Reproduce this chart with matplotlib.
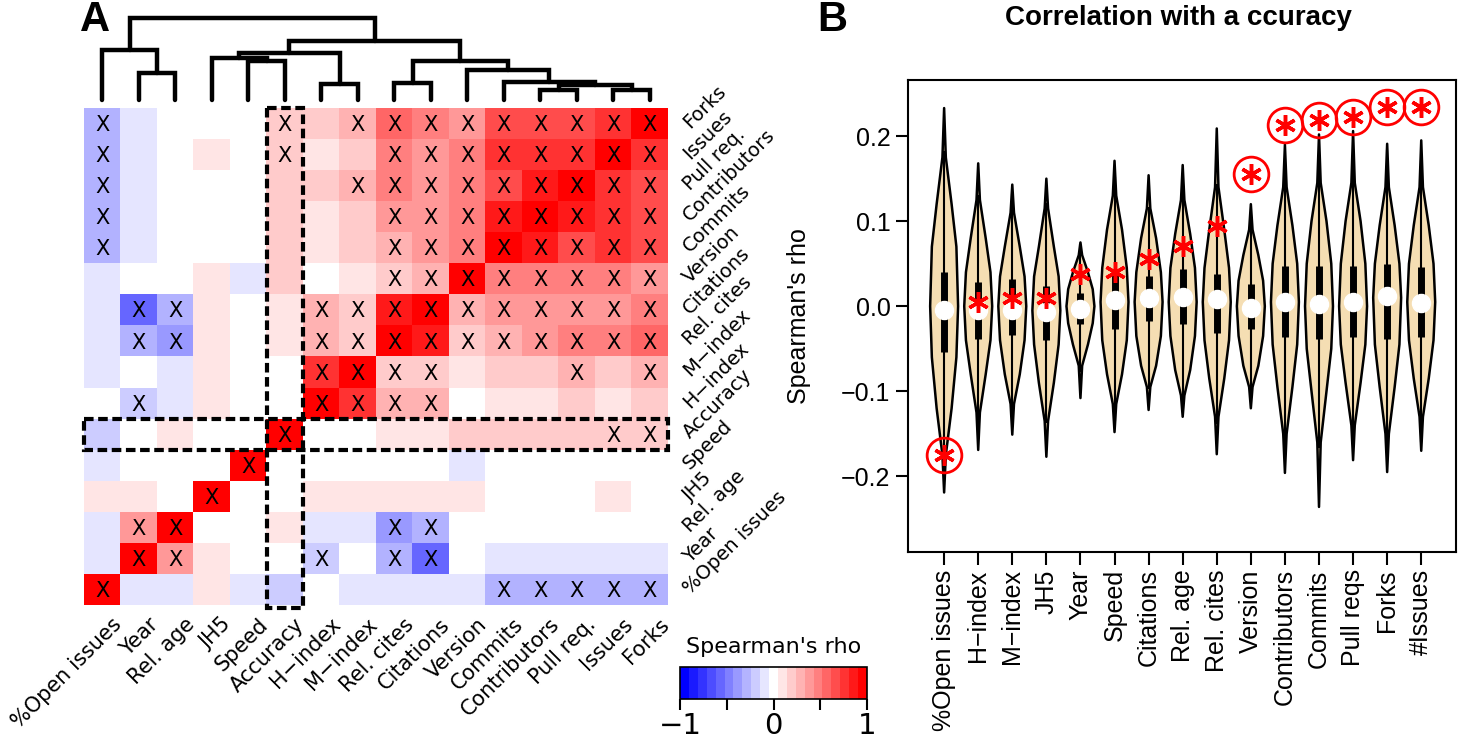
import numpy as np
import matplotlib
matplotlib.use("Agg")
import matplotlib.pyplot as plt
from matplotlib.colors import LinearSegmentedColormap
from matplotlib.patches import Rectangle

# ---- panel A data: leaf order of the dendrogram (left -> right, bottom -> top)
LEAVES = ["%Open issues", "Year", "Rel. age", "JH5", "Speed", "Accuracy",
          "H\u2212index", "M\u2212index", "Rel. cites", "Citations", "Version",
          "Commits", "Contributors", "Pull req.", "Issues", "Forks"]

# Spearman's rho between metrics, rows/cols in leaf order
RHO = [
    [1, -0.05, -0.08, 0.06, -0.05, -0.175, 0.0, -0.05, -0.12, -0.08, -0.13, -0.27, -0.28, -0.27, -0.3, -0.26],
    [-0.05, 1, 0.35, 0.07, 0.0, 0.038, -0.2, 0.04, -0.28, -0.55, 0.0, -0.1, -0.1, -0.05, -0.05, -0.05],
    [-0.08, 0.35, 1, 0.0, 0.03, 0.07, -0.08, -0.05, -0.38, -0.3, 0.04, 0.0, 0.0, 0.04, 0.04, 0.0],
    [0.06, 0.07, 0.0, 1, 0.0, 0.01, 0.05, 0.05, 0.05, 0.05, 0.05, 0.0, 0.0, 0.0, 0.05, 0.0],
    [-0.05, 0.0, 0.03, 0.0, 1, 0.04, 0.0, 0.0, 0.0, 0.0, -0.05, 0.0, 0.0, 0.04, 0.04, 0.04],
    [-0.175, 0.038, 0.07, 0.01, 0.04, 1, 0.005, 0.01, 0.095, 0.055, 0.155, 0.215, 0.21, 0.22, 0.235, 0.232],
    [0.0, -0.2, -0.08, 0.05, 0.0, 0.005, 1, 0.75, 0.27, 0.3, 0.0, 0.1, 0.13, 0.2, 0.1, 0.22],
    [-0.05, 0.04, -0.05, 0.05, 0.0, 0.01, 0.75, 1, 0.22, 0.22, 0.05, 0.15, 0.15, 0.25, 0.2, 0.28],
    [-0.12, -0.28, -0.38, 0.05, 0.0, 0.095, 0.27, 0.22, 1, 0.85, 0.15, 0.32, 0.4, 0.47, 0.45, 0.55],
    [-0.08, -0.55, -0.3, 0.05, 0.0, 0.055, 0.3, 0.22, 0.85, 1, 0.25, 0.35, 0.4, 0.37, 0.42, 0.5],
    [-0.13, 0.0, 0.04, 0.05, -0.05, 0.155, 0.0, 0.05, 0.15, 0.25, 1, 0.5, 0.45, 0.45, 0.45, 0.42],
    [-0.27, -0.1, 0.0, 0.0, 0.0, 0.215, 0.1, 0.15, 0.32, 0.35, 0.5, 1, 0.85, 0.7, 0.72, 0.65],
    [-0.28, -0.1, 0.0, 0.0, 0.0, 0.21, 0.13, 0.15, 0.4, 0.4, 0.45, 0.85, 1, 0.85, 0.72, 0.67],
    [-0.27, -0.05, 0.04, 0.0, 0.04, 0.22, 0.2, 0.25, 0.47, 0.37, 0.45, 0.7, 0.85, 1, 0.72, 0.68],
    [-0.3, -0.05, 0.04, 0.05, 0.04, 0.235, 0.1, 0.2, 0.45, 0.42, 0.45, 0.72, 0.72, 0.72, 1, 0.8],
    [-0.26, -0.05, 0.0, 0.0, 0.04, 0.232, 0.22, 0.28, 0.55, 0.5, 0.42, 0.65, 0.67, 0.68, 0.8, 1],
]

# significant pairs, heatmap rows from top (Forks) to bottom (%Open issues)
SIG = [
    "X....X.XXXXXXXXX",
    "X....X..XXXXXXXX",
    "X......XXXXXXXXX",
    "X.......XXXXXXXX",
    "X.......XXXXXXXX",
    "........XXXXXXXX",
    ".XX...XXXXXXXXXX",
    ".XX...XXXXXXXXXX",
    "......XXXX...X.X",
    ".X....XXXX......",
    ".....X........XX",
    "....X...........",
    "...X............",
    ".XX.....XX......",
    ".XX...X.XX......",
    "X..........XXXXX",
]

# dendrogram merges: (child a, child b, height); ids >= 16 are earlier merges
MERGES = [
    (1, 2, 27), (0, 16, 50), (4, 5, 39), (3, 18, 42), (6, 7, 16),
    (19, 20, 47), (8, 9, 17), (12, 13, 10), (14, 15, 10), (23, 24, 15),
    (11, 25, 18), (10, 26, 30), (22, 27, 39), (21, 28, 59), (17, 29, 82),
]

# ---- panel B data
VIOLIN_LABELS = ["%Open issues", "H\u2212index", "M\u2212index", "JH5", "Year",
                 "Speed", "Citations", "Rel. age", "Rel. cites", "Version",
                 "Contributors", "Commits", "Pull reqs", "Forks", "#Issues"]
# outline levels of each violin, top tip -> bottom tip
VIOLIN_Y = [
    [0.233, 0.175, 0.12, 0.07, 0.0, -0.06, -0.12, -0.175, -0.219],
    [0.168, 0.125, 0.08, 0.04, 0.0, -0.04, -0.08, -0.125, -0.169],
    [0.143, 0.11, 0.07, 0.035, 0.0, -0.04, -0.08, -0.115, -0.151],
    [0.150, 0.115, 0.07, 0.035, -0.005, -0.045, -0.09, -0.135, -0.177],
    [0.075, 0.06, 0.04, 0.02, 0.0, -0.02, -0.045, -0.07, -0.108],
    [0.171, 0.13, 0.09, 0.045, 0.005, -0.04, -0.08, -0.115, -0.148],
    [0.154, 0.115, 0.08, 0.04, 0.005, -0.035, -0.07, -0.095, -0.122],
    [0.166, 0.125, 0.085, 0.045, 0.005, -0.035, -0.075, -0.105, -0.130],
    [0.209, 0.14, 0.09, 0.045, 0.005, -0.04, -0.085, -0.13, -0.174],
    [0.120, 0.09, 0.06, 0.03, 0.0, -0.035, -0.07, -0.095, -0.120],
    [0.190, 0.14, 0.095, 0.05, 0.005, -0.045, -0.095, -0.15, -0.196],
    [0.202, 0.145, 0.10, 0.05, 0.0, -0.05, -0.10, -0.16, -0.236],
    [0.206, 0.145, 0.10, 0.05, 0.0, -0.045, -0.09, -0.14, -0.181],
    [0.191, 0.14, 0.095, 0.05, 0.01, -0.045, -0.095, -0.15, -0.195],
    [0.195, 0.14, 0.095, 0.05, 0.005, -0.04, -0.085, -0.13, -0.170],
]
VIOLIN_HW = [0, 0.05, 0.22, 0.36, 0.41, 0.36, 0.22, 0.05, 0]
Q3 = [0.040, 0.029, 0.032, 0.024, 0.016, 0.044, 0.036, 0.044, 0.038, 0.026, 0.047, 0.047, 0.047, 0.050, 0.046]
Q1 = [-0.054, -0.038, -0.034, -0.040, -0.021, -0.027, -0.017, -0.021, -0.032, -0.027, -0.036, -0.038, -0.036, -0.038, -0.036]
MEDIAN = [-0.004, -0.004, -0.005, -0.007, -0.003, 0.007, 0.010, 0.011, 0.008, -0.002, 0.005, 0.003, 0.005, 0.012, 0.004]
OBSERVED = [-0.175, 0.005, 0.01, 0.01, 0.038, 0.04, 0.055, 0.071, 0.094, 0.155, 0.213, 0.219, 0.222, 0.234, 0.234]
SIGNIF = [1, 0, 0, 0, 0, 0, 0, 0, 0, 1, 1, 1, 1, 1, 1]

W, H = 1460, 742
fig = plt.figure(figsize=(W / 100, H / 100), dpi=100)


def box(x0, y0, x1, y1):
    # pixel box (top-left origin) -> figure fraction rect
    return [x0 / W, 1 - y1 / H, (x1 - x0) / W, (y1 - y0) / H]


# ---------------- panel A: heatmap
n = len(LEAVES)
mat = np.array(RHO)[::-1]
row_labels = LEAVES[::-1]
cmap = LinearSegmentedColormap.from_list("rho", ["#0000FF", "#FFFFFF", "#FF0000"], N=21)

ax_hm = fig.add_axes(box(84, 108, 668, 605))
im = ax_hm.imshow(mat, cmap=cmap, vmin=-1, vmax=1, aspect="auto", interpolation="nearest")
ax_hm.set_xlim(-0.5, n - 0.5)
ax_hm.set_ylim(n - 0.5, -0.5)
ax_hm.axis("off")

for i, row in enumerate(SIG):
    for j, c in enumerate(row):
        if c == "X":
            ax_hm.text(j, i + 0.05, "X", ha="center", va="center", fontsize=15,
                       family="DejaVu Sans")

for j, lab in enumerate(LEAVES):
    ax_hm.text(j + 0.25, n - 0.5 + 0.3, lab, rotation=45, ha="right", va="top",
               rotation_mode="anchor", fontsize=15, family="DejaVu Sans")
for i, lab in enumerate(row_labels):
    ax_hm.text(n - 0.5 + 0.5, i + 0.05, lab, rotation=45, ha="left", va="center",
               rotation_mode="anchor", fontsize=14, family="DejaVu Sans")

dash = (0, (2.3, 1.1))
ax_hm.add_patch(Rectangle((4.5, -0.5), 1, n + 0.1, fill=False, lw=3, ls=dash,
                          ec="black", clip_on=False, zorder=5))
ax_hm.add_patch(Rectangle((-0.5, 9.5), n, 1, fill=False, lw=3, ls=dash,
                          ec="black", clip_on=False, zorder=5))

# ---------------- dendrogram
ax_dn = fig.add_axes(box(84, 14, 668, 100))
ax_dn.set_xlim(-0.5, n - 0.5)
ax_dn.set_ylim(0, 86)
ax_dn.axis("off")
xpos = {k: float(k) for k in range(n)}
hgt = {k: 0.0 for k in range(n)}
for m, (a, b, h) in enumerate(MERGES):
    ax_dn.plot([xpos[a], xpos[a], xpos[b], xpos[b]], [hgt[a], h, h, hgt[b]],
               color="black", lw=3.2, solid_capstyle="round", solid_joinstyle="miter",
               clip_on=False)
    xpos[n + m] = (xpos[a] + xpos[b]) / 2
    hgt[n + m] = h

# ---------------- colour key
ax_cb = fig.add_axes(box(680, 667, 867, 699))
cb = fig.colorbar(im, cax=ax_cb, orientation="horizontal")
cb.set_ticks([-1, -0.5, 0, 0.5, 1])
cb.set_ticklabels(["\u22121", "", "0", "", "1"])
cb.outline.set_linewidth(1.2)
ax_cb.tick_params(length=8, width=1.5, labelsize=21, pad=1)
ax_cb.set_title("Spearman's rho", fontsize=16, pad=10, family="DejaVu Sans")

fig.text(95 / W, 1 - 20 / H, "A", fontsize=30, fontweight="bold",
         family="Liberation Sans", ha="center", va="center")

# ---------------- panel B: violins
sans = ["Liberation Sans", "DejaVu Sans"]
ax_v = fig.add_axes(box(908, 80, 1456, 552))
pos = np.arange(1, len(VIOLIN_LABELS) + 1)
hw = np.array(VIOLIN_HW)
for k, p in enumerate(pos):
    ys = np.array(VIOLIN_Y[k])
    xs = np.concatenate([p + hw, (p - hw)[::-1]])
    yy = np.concatenate([ys, ys[::-1]])
    ax_v.fill(xs, yy, fc="#F5DEB3", ec="black", lw=1.8, joinstyle="round", zorder=2)
    iqr = Q3[k] - Q1[k]
    lo = max(Q1[k] - 1.5 * iqr, ys[-1])
    hi = min(Q3[k] + 1.5 * iqr, ys[0])
    ax_v.plot([p, p], [lo, hi], color="black", lw=1.5, zorder=3)
    ax_v.plot([p, p], [Q1[k], Q3[k]], color="black", lw=5, solid_capstyle="butt", zorder=3)
    ax_v.plot(p, MEDIAN[k], "o", color="white", mec="white", ms=13, zorder=4)
    ax_v.plot(p, OBSERVED[k], marker=(6, 2, 0), color="red", mec="red", ms=15, mew=2.5,
              ls="none", zorder=5)
    if SIGNIF[k]:
        ax_v.plot(p, OBSERVED[k], "o", mfc="none", mec="red", ms=25, mew=2, zorder=5)

ax_v.set_xlim(-0.06, 16.02)
ax_v.set_ylim(-0.289, 0.266)
ax_v.set_yticks([-0.2, -0.1, 0.0, 0.1, 0.2])
ax_v.set_yticklabels(["\u22120.2", "\u22120.1", "0.0", "0.1", "0.2"], family=sans)
ax_v.set_xticks(pos)
ax_v.set_xticklabels(VIOLIN_LABELS, rotation=90, family=sans)
ax_v.tick_params(length=9, width=1.5, labelsize=18)
for s in ax_v.spines.values():
    s.set_linewidth(1.5)
ax_v.set_ylabel("Spearman's rho", fontsize=18, family=sans, labelpad=22)

fig.text(1178 / W, 1 - 18 / H, "Correlation with a ccuracy", fontsize=20,
         fontweight="bold", family=sans, ha="center", va="center")
fig.text(832 / W, 1 - 20 / H, "B", fontsize=30, fontweight="bold",
         family="Liberation Sans", ha="center", va="center")

fig.savefig("out.png", dpi=100)
